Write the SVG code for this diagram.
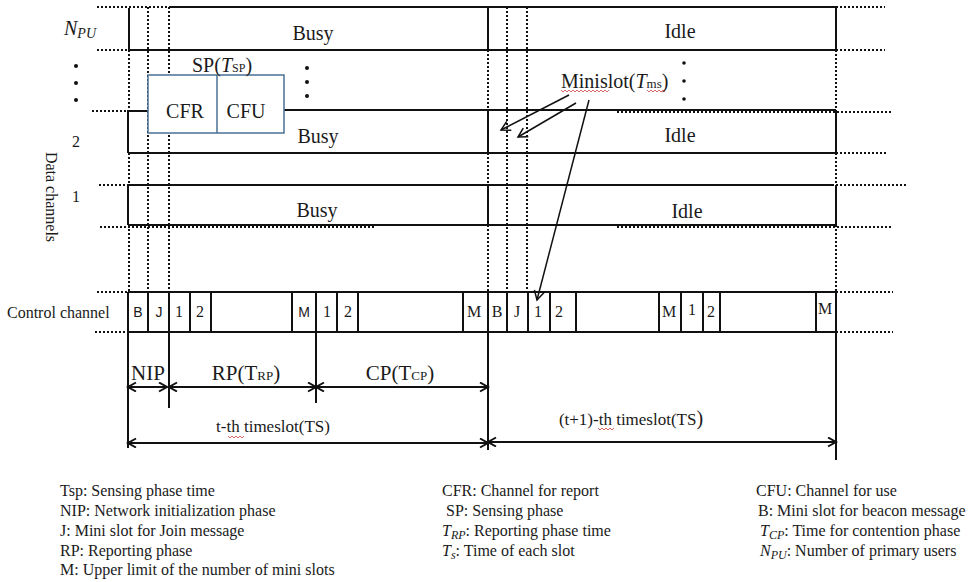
<svg xmlns="http://www.w3.org/2000/svg" width="979" height="582" viewBox="0 0 979 582">
<style>
text{font-family:"Liberation Serif","Times New Roman",serif;fill:#1a1a1a}
.s{stroke:#111;stroke-width:2;fill:none}
.d{stroke:#111;stroke-width:2;stroke-dasharray:2 2;fill:none}
.a{stroke:#111;stroke-width:2;fill:none;marker-start:url(#ah);marker-end:url(#ah)}
.big{font-size:20px}
.mid{font-size:17px}
.leg{font-size:16px}
.cc{font-size:16px;text-anchor:middle}
.sans{font-family:"Liberation Sans",Arial,sans-serif;font-size:14px}
.c{text-anchor:middle}
.w{stroke:#d04040;stroke-width:0.8;fill:none}
</style>
<defs>
<marker id="ah" markerWidth="12" markerHeight="12" refX="9" refY="5" orient="auto-start-reverse" markerUnits="userSpaceOnUse">
<path d="M1,0.5 L9,5 L1,9.5" fill="none" stroke="#111" stroke-width="2"/>
</marker>
<marker id="ah2" markerWidth="14" markerHeight="14" refX="10" refY="6" orient="auto" markerUnits="userSpaceOnUse">
<path d="M1,1 L10,6 L1,11" fill="none" stroke="#111" stroke-width="1.5"/>
</marker>
</defs>
<rect width="979" height="582" fill="#fff"/>

<g id="grid">
<!-- dotted verticals -->
<path class="d" d="M148,7 V292 M169,7 V292 M507,7 V292 M527,7 V292"/>
<path class="d" d="M129,50 V110 M129,153 V185 M129,225 V292"/>
<path class="d" d="M488,50 V110 M488,153 V185 M488,225 V292"/>
<path class="d" d="M836,50 V110 M836,153 V185 M836,225 V292"/>
<!-- dotted leaders -->
<path class="d" d="M97,7 H170 M836,7 H885"/>
<path class="d" d="M97,50 H129 M836,50 H885"/>
<path class="d" d="M92,111 H129 M617,112 H893"/>
<path class="d" d="M836,153 H888"/>
<path class="d" d="M99,185 H128 M832,185 H907"/>
<path class="d" d="M100,227 H375 M617,227 H893"/>
<path class="d" d="M97,292 H128 M836,292 H893"/>
<path class="d" d="M95,332 H128 M836,332 H893"/>
</g>

<g id="row-npu">
<path class="s" d="M170,7 H836 M129,50 H836 M129,8 V50 M488,7 V50 M836,7 V50"/>
<text x="64" y="35" font-size="20" font-style="italic">N<tspan font-size="14" dy="3">PU</tspan></text>
<text class="big c" x="313" y="40">Busy</text>
<text class="big c" x="680" y="38">Idle</text>
</g>

<g id="dots">
<circle cx="76" cy="66" r="2" fill="#111"/><circle cx="76" cy="83" r="2" fill="#111"/><circle cx="76" cy="100" r="2" fill="#111"/>
<circle cx="307" cy="68" r="2" fill="#111"/><circle cx="307" cy="82" r="2" fill="#111"/><circle cx="307" cy="96" r="2" fill="#111"/>
<circle cx="684" cy="63" r="1.8" fill="#111"/><circle cx="684" cy="81" r="1.8" fill="#111"/><circle cx="684" cy="99" r="1.8" fill="#111"/>
</g>

<g id="row-2">
<path class="s" d="M128,111 H148 M284,110 H836 M128,153 H836 M128,110 V153 M488,110 V153 M836,110 V153"/>
<text class="big c" x="318" y="143">Busy</text>
<text class="big c" x="680" y="142">Idle</text>
<text class="leg c" x="76" y="147">2</text>
</g>

<g id="sp-box">
<rect x="148" y="75" width="136" height="58" fill="#fff" stroke="#4a7096" stroke-width="1.5"/>
<line x1="217" y1="75" x2="217" y2="133" stroke="#4a7096" stroke-width="1.5"/>
<text class="big c" x="185" y="118">CFR</text>
<text class="big c" x="246" y="118">CFU</text>
<text x="192" y="72" font-size="20">SP(<tspan font-style="italic">T</tspan><tspan font-size="12">SP</tspan>)</text>
</g>

<g id="row-1">
<path class="s" d="M128,185 H832 M128,225 H836 M128,185 V225 M488,185 V225 M836,185 V225"/>
<text class="big c" x="317" y="217">Busy</text>
<text class="big c" x="687" y="218">Idle</text>
<text class="leg c" x="76" y="202">1</text>
</g>

<text class="leg c" transform="translate(46,197) rotate(90)">Data channels</text>

<g id="minislot">
<text x="561" y="88" font-size="20">Minislot(<tspan font-style="italic">T</tspan><tspan font-size="13">ms</tspan>)</text>
<path class="w" d="M561,90 l2,2 l2,-2 l2,2 l2,-2 l2,2 l2,-2 l2,2 l2,-2 l2,2 l2,-2 l2,2 l2,-2 l2,2 l2,-2 l2,2 l2,-2 l2,2 l2,-2 l2,2 l2,-2 l2,2 l2,-2 l2,2 l2,-2"/>
<path class="w" d="M647,90 l2,2 l2,-2 l2,2 l2,-2 l2,2 l2,-2 l2,2 l2,-2 l2,2"/>
</g>

<g id="connectors">
<line x1="569" y1="95" x2="501" y2="130" stroke="#111" stroke-width="1.5" marker-end="url(#ah2)"/>
<line x1="576" y1="103" x2="518" y2="137" stroke="#111" stroke-width="1.5" marker-end="url(#ah2)"/>
<line x1="589" y1="100" x2="537" y2="300" stroke="#111" stroke-width="1.5" marker-end="url(#ah2)"/>
</g>

<g id="control-channel">
<path class="s" d="M128,292 H836 M128,332 H836"/>
<path class="s" d="M128,292 V448 M148,292 V332 M169,292 V408 M190,292 V332 M211,292 V332 M292,292 V332 M316,292 V403 M337,292 V332 M358,292 V332 M463,292 V332 M488,292 V450 M507,292 V332 M528,292 V332 M550,292 V332 M576,292 V332 M659,292 V332 M681,292 V332 M703,292 V332 M720,292 V332 M816,292 V332 M836,292 V460"/>
<text class="leg" x="7" y="318">Control channel</text>
<text class="sans c" x="138" y="317">B</text>
<text class="sans c" x="159" y="317">J</text>
<text class="cc" x="179" y="317">1</text>
<text class="cc" x="200" y="317">2</text>
<text class="sans c" x="304" y="317">M</text>
<text class="cc" x="327" y="317">1</text>
<text class="cc" x="348" y="317">2</text>
<text class="cc" x="474" y="317">M</text>
<text class="cc" x="497" y="317">B</text>
<text class="cc" x="517" y="317">J</text>
<text class="cc" x="538" y="317">1</text>
<text class="cc" x="559" y="317">2</text>
<text class="cc" x="669" y="317">M</text>
<text class="cc" x="692" y="315">1</text>
<text class="cc" x="711" y="317">2</text>
<text class="cc" x="825" y="314">M</text>
</g>

<g id="phases">
<line class="a" x1="128" y1="387" x2="167" y2="387"/>
<line class="a" x1="169" y1="387" x2="316" y2="387"/>
<line class="a" x1="316" y1="387" x2="488" y2="387"/>
<line class="a" x1="128" y1="443" x2="488" y2="443"/>
<line class="a" x1="488" y1="442" x2="836" y2="442"/>
<text class="c" x="148" y="380" font-size="21">NIP</text>
<text class="c" x="246" y="380" font-size="21">RP(T<tspan font-size="13">RP</tspan>)</text>
<text class="c" x="400" y="380" font-size="21">CP(T<tspan font-size="13">CP</tspan>)</text>
<text class="mid c" x="273" y="432">t-th timeslot(TS)</text>
<text class="mid c" x="631" y="425">(t+1)-th timeslot(TS<tspan font-size="20">)</tspan></text>
<path class="w" d="M228,436 l2,2 l2,-2 l2,2 l2,-2 l2,2 l2,-2 l2,2 l2,-2"/>
<path class="w" d="M598,428 l2,2 l2,-2 l2,2 l2,-2 l2,2 l2,-2 l2,2 l2,-2"/>
</g>

<g id="legend">
<text class="leg" x="60" y="496">Tsp: Sensing phase time</text>
<text class="leg" x="60" y="516">NIP: Network initialization phase</text>
<text class="leg" x="60" y="536">J: Mini slot for Join message</text>
<text class="leg" x="60" y="556">RP: Reporting phase</text>
<text class="leg" x="60" y="575">M: Upper limit of the number of mini slots</text>
<text class="leg" x="442" y="496">CFR: Channel for report</text>
<text class="leg" x="446" y="516">SP: Sensing phase</text>
<text class="leg" x="442" y="536"><tspan font-style="italic">T</tspan><tspan font-style="italic" font-size="12" dy="3">RP</tspan><tspan dy="-3">: Reporting phase time</tspan></text>
<text class="leg" x="442" y="556"><tspan font-style="italic">T</tspan><tspan font-style="italic" font-size="12" dy="3">s</tspan><tspan dy="-3">: Time of each slot</tspan></text>
<text class="leg" x="756" y="496">CFU: Channel for use</text>
<text class="leg" x="758" y="516">B: Mini slot for beacon message</text>
<text class="leg" x="760" y="536"><tspan font-style="italic">T</tspan><tspan font-style="italic" font-size="12" dy="3">CP</tspan><tspan dy="-3">: Time for contention phase</tspan></text>
<text class="leg" x="760" y="556"><tspan font-style="italic">N</tspan><tspan font-style="italic" font-size="12" dy="3">PU</tspan><tspan dy="-3">: Number of primary users</tspan></text>
</g>
</svg>
